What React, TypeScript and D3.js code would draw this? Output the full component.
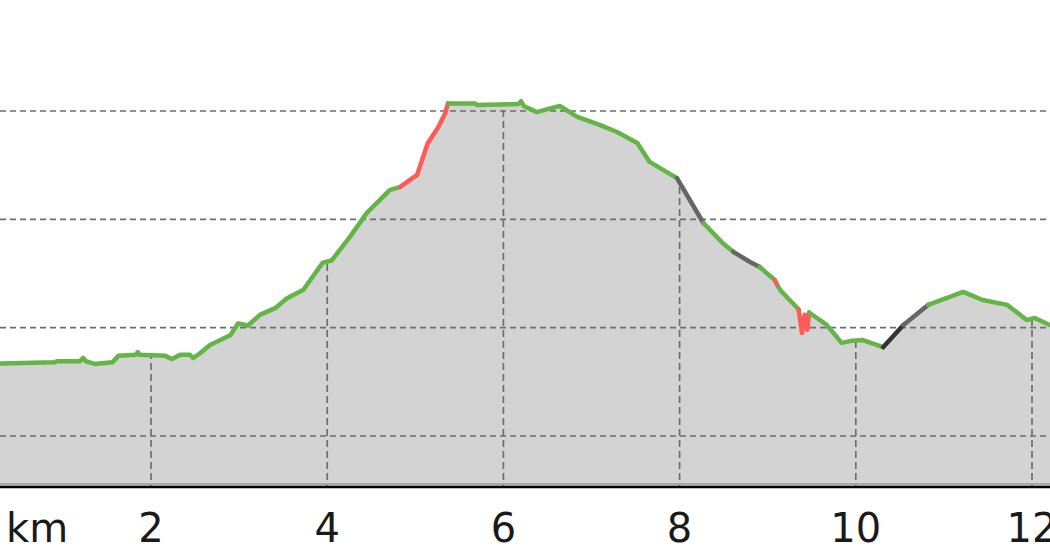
import React from "react";
import * as d3 from "d3";

// distance along the route (km)
const distanceKm = [
  0, 0.29, 0.91, 0.93, 1.19, 1.23, 1.26, 1.36, 1.56, 1.63,
  1.83, 1.85, 1.87, 2.16, 2.24, 2.33, 2.44, 2.48, 2.56, 2.67,
  2.9, 2.99, 3.1, 3.24, 3.41, 3.54, 3.73, 3.95, 4.05, 4.26,
  4.45, 4.71, 4.83, 5.02, 5.14, 5.26, 5.34, 5.37, 5.68, 5.7,
  6.17, 6.2, 6.23, 6.38, 6.51, 6.64, 6.84, 7.1, 7.29, 7.52,
  7.66, 7.97, 8.27, 8.49, 8.61, 8.8, 8.91, 9.08, 9.12, 9.15,
  9.35, 9.39, 9.42, 9.45, 9.47, 9.67, 9.84, 9.96, 10.08, 10.31,
  10.54, 10.82, 11.22, 11.44, 11.72, 11.94, 12.03, 12.2, 12.35,
];

// elevation (m)
const elevationM = [
  266, 267, 268, 269, 269, 272, 269, 266.5, 268, 274,
  275, 277.5, 275, 274, 271, 275, 275, 272, 276.6, 284,
  293, 304, 302, 312, 318, 327, 335, 360, 362, 384,
  406, 427, 430, 441, 470, 485, 498, 507, 507, 505.5,
  506.5, 509, 504.6, 499, 502, 504.6, 494.5, 487, 480.6, 470.5,
  453, 438, 396.6, 378, 370, 360.6, 356, 344, 337.5, 334,
  317, 295, 312, 298, 314, 302.5, 286, 288, 288.6, 282,
  302.5, 321, 333, 325.5, 321, 307, 309, 302.5, 300,
];

// surface / grade class of the segment starting at each point
const segmentKind = [
  "g", "g", "g", "g", "g", "g", "g", "g", "g", "g",
  "g", "g", "g", "g", "g", "g", "g", "g", "g", "g",
  "g", "g", "g", "g", "g", "g", "g", "g", "g", "g",
  "g", "g", "r", "r", "r", "r", "r", "g", "g", "g",
  "g", "g", "g", "g", "g", "g", "g", "g", "g", "g",
  "g", "k", "g", "g", "k", "k", "g", "r", "g", "g",
  "r", "r", "r", "r", "g", "g", "g", "g", "g", "d",
  "k", "g", "g", "g", "g", "g", "g", "g", "g",
];

const xTickValues = [2, 4, 6, 8, 10, 12];
const xTickLabels = ["2", "4", "6", "8", "10", "12"];
const gridElevations = [200, 300, 400, 500];
const unitLabel = "km";

const kindColor: Record<string, string> = {
  g: "#63b548",
  r: "#ff5a5a",
  k: "#666666",
  d: "#333333",
};

const W = 1050;
const H = 560;
const baseY = 487;

export default function App() {
  const x = d3.scaleLinear().domain([0, 12]).range([-25.2, 1032]);
  const y = d3.scaleLinear().domain([200, 500]).range([436, 111]);

  const pts = distanceKm.map((d, i) => ({ d, e: elevationM[i], k: segmentKind[i] }));

  const area = d3
    .area<{ d: number; e: number }>()
    .x((p) => x(p.d))
    .y0(baseY)
    .y1((p) => y(p.e));
  const line = d3
    .line<{ d: number; e: number }>()
    .x((p) => x(p.d))
    .y((p) => y(p.e));

  // group consecutive segments by kind
  const groups: { k: string; pts: typeof pts }[] = [];
  for (let i = 0; i < pts.length - 1; i++) {
    const k = pts[i].k;
    const last = groups[groups.length - 1];
    if (last && last.k === k) {
      last.pts.push(pts[i + 1]);
    } else {
      groups.push({ k, pts: [pts[i], pts[i + 1]] });
    }
  }

  const areaPath = area(pts) || "";

  return (
    <svg
      width={W}
      height={H}
      style={{ position: "absolute", left: 0, top: 0, background: "#fff" }}
    >
      <defs>
        <clipPath id="areaClip">
          <path d={areaPath} />
        </clipPath>
      </defs>
      <path d={areaPath} fill="#d3d3d3" />
      {gridElevations.map((g) => (
        <line
          key={g}
          x1={0}
          x2={W}
          y1={y(g)}
          y2={y(g)}
          stroke="#6e6e6e"
          strokeWidth={1.7}
          strokeDasharray="6,4"
        />
      ))}
      <g clipPath="url(#areaClip)">
        {xTickValues.map((t) => (
          <line
            key={t}
            x1={x(t)}
            x2={x(t)}
            y1={0}
            y2={baseY}
            stroke="#6e6e6e"
            strokeWidth={1.7}
            strokeDasharray="7,4"
          />
        ))}
      </g>
      <line x1={0} x2={W} y1={baseY - 3} y2={baseY - 3} stroke="#a8a8a8" strokeWidth={2} />
      <line x1={0} x2={W} y1={baseY} y2={baseY} stroke="#000" strokeWidth={2.5} />
      {groups.map((g, i) => (
        <path
          key={i}
          d={line(g.pts) || ""}
          fill="none"
          stroke={kindColor[g.k]}
          strokeWidth={4.5}
          strokeLinejoin="round"
          strokeLinecap="round"
        />
      ))}
      {xTickValues.map((t, i) => (
        <text
          key={t}
          x={x(t)}
          y={542}
          textAnchor="middle"
          fontFamily="DejaVu Sans"
          fontSize={40}
          fill="#1a1a1a"
        >
          {xTickLabels[i]}
        </text>
      ))}
      <text x={6} y={542} fontFamily="DejaVu Sans" fontSize={40} fill="#1a1a1a">
        {unitLabel}
      </text>
    </svg>
  );
}
